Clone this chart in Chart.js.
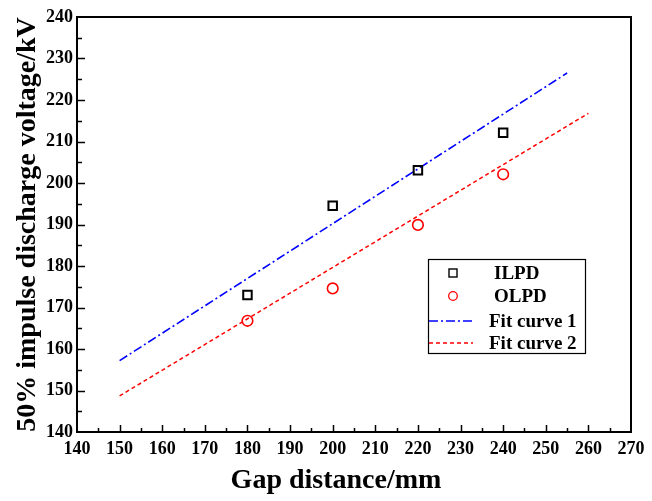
<!DOCTYPE html>
<html>
<head>
<meta charset="utf-8">
<script src="https://cdn.jsdelivr.net/npm/chart.js@4.4.1/dist/chart.umd.min.js"></script>
<style>
  html, body { margin: 0; padding: 0; background: #fff; }
  #wrap { width: 652px; height: 501px; }
</style>
</head>
<body>
<div id="wrap"><canvas id="gapChart" width="652" height="501"></canvas></div>
<script>
  // values
  const gapDistance = [180, 200, 220, 240];
  const ilpdVoltage = [173.0, 194.5, 203.1, 212.1];
  const olpdVoltage = [166.8, 174.6, 189.9, 202.1];

  // fit lines (end points)
  const fit1Gap = [150, 255];
  const fit1Voltage = [157.2, 226.5];
  const fit2Gap = [150, 260];
  const fit2Voltage = [148.7, 216.8];

  const xRange = [140, 270];
  const yRange = [140, 240];
  const legendLabels = ['ILPD', 'OLPD', 'Fit curve 1', 'Fit curve 2'];
  const xTitle = 'Gap distance/mm';
  const yTitle = '50% impulse discharge voltage/kV';

  const serif = '"Liberation Serif", "Times New Roman", serif';
  const toPoints = (xs, ys) => xs.map((x, i) => ({ x: x, y: ys[i] }));

  // frame + inward ticks, like the original plot
  const frameTicks = {
    id: 'frameTicks',
    afterDraw(chart) {
      const { ctx, chartArea: a, scales: { x, y } } = chart;
      ctx.save();
      ctx.strokeStyle = '#000';
      ctx.lineWidth = 2;
      ctx.strokeRect(a.left, a.top, a.right - a.left, a.bottom - a.top);

      ctx.lineWidth = 1.5;
      ctx.beginPath();
      for (let v = xRange[0] + 5; v < xRange[1]; v += 5) {
        const px = Math.round(x.getPixelForValue(v)) + 0.5;
        const len = v % 10 === 0 ? 7 : 4;
        ctx.moveTo(px, a.bottom);
        ctx.lineTo(px, a.bottom - len);
      }
      for (let v = yRange[0] + 5; v < yRange[1]; v += 5) {
        const py = Math.round(y.getPixelForValue(v)) + 0.5;
        const len = v % 10 === 0 ? 8 : 5;
        ctx.moveTo(a.left, py);
        ctx.lineTo(a.left + len, py);
      }
      ctx.stroke();

      // x title sits a bit left of centre in the original
      ctx.fillStyle = '#000';
      ctx.font = 'bold 28px ' + serif;
      ctx.textAlign = 'center';
      ctx.textBaseline = 'alphabetic';
      ctx.fillText(xTitle, 336, 488);
      ctx.restore();
    }
  };

  // boxed legend inside the plot
  const boxLegend = {
    id: 'boxLegend',
    afterDraw(chart) {
      const ctx = chart.ctx;
      const ds = chart.data.datasets;
      const box = { left: 428, top: 259, width: 157, height: 94 };
      const rows = [273, 296, 321, 343];
      const textX = [494, 494, 489, 489];
      ctx.save();
      ctx.strokeStyle = '#000';
      ctx.lineWidth = 1.2;
      ctx.strokeRect(box.left + 0.5, box.top + 0.5, box.width, box.height);

      ds.forEach((d, i) => {
        const cy = rows[i];
        ctx.strokeStyle = d.borderColor;
        if (d.showLine) {
          ctx.lineWidth = d.borderWidth;
          ctx.setLineDash(d.borderDash || []);
          ctx.beginPath();
          ctx.moveTo(429, cy);
          ctx.lineTo(473, cy);
          ctx.stroke();
          ctx.setLineDash([]);
        } else if (d.pointStyle === 'rect') {
          ctx.lineWidth = 1.4;
          ctx.strokeRect(449, cy - 4, 8, 8);
        } else {
          ctx.lineWidth = 1.3;
          ctx.beginPath();
          ctx.arc(453, cy, 4.3, 0, Math.PI * 2);
          ctx.stroke();
        }
        ctx.fillStyle = '#000';
        ctx.font = 'bold 19px ' + serif;
        ctx.textBaseline = 'middle';
        ctx.fillText(legendLabels[i], textX[i], cy + 1);
      });
      ctx.restore();
    }
  };

  const config = {
    type: 'scatter',
    data: {
      datasets: [
        {
          label: legendLabels[0],
          data: toPoints(gapDistance, ilpdVoltage),
          pointStyle: 'rect',
          pointRadius: 6,
          borderColor: '#000',
          backgroundColor: 'rgba(0,0,0,0)',
          borderWidth: 2
        },
        {
          label: legendLabels[1],
          data: toPoints(gapDistance, olpdVoltage),
          pointStyle: 'circle',
          pointRadius: 5.3,
          borderColor: '#ff0000',
          backgroundColor: 'rgba(0,0,0,0)',
          borderWidth: 1.6
        },
        {
          label: legendLabels[2],
          data: toPoints(fit1Gap, fit1Voltage),
          showLine: true,
          pointRadius: 0,
          borderColor: '#0000ff',
          borderWidth: 1.6,
          borderDash: [9, 3, 2, 3]
        },
        {
          label: legendLabels[3],
          data: toPoints(fit2Gap, fit2Voltage),
          showLine: true,
          pointRadius: 0,
          borderColor: '#ff0000',
          borderWidth: 1.5,
          borderDash: [4, 3]
        }
      ]
    },
    options: {
      responsive: false,
      animation: false,
      layout: { padding: { top: 17, right: 21, left: 0, bottom: 0 } },
      plugins: {
        legend: { display: false },
        tooltip: { enabled: false }
      },
      scales: {
        x: {
          type: 'linear',
          min: xRange[0],
          max: xRange[1],
          grid: { display: false, drawTicks: false },
          border: { display: false },
          ticks: {
            stepSize: 10,
            padding: 7,
            color: '#000',
            maxRotation: 0,
            font: { family: serif, size: 18, weight: 'bold' }
          },
          afterFit: (scale) => { scale.height = 69; }
        },
        y: {
          type: 'linear',
          min: yRange[0],
          max: yRange[1],
          grid: { display: false, drawTicks: false },
          border: { display: false },
          ticks: {
            stepSize: 10,
            padding: 4,
            color: '#000',
            font: { family: serif, size: 18, weight: 'bold' }
          },
          title: {
            display: true,
            text: yTitle,
            color: '#000',
            padding: { top: 11, bottom: 0 },
            font: { family: serif, size: 28, weight: 'bold' }
          },
          afterFit: (scale) => { scale.width = 77; }
        }
      }
    },
    plugins: [frameTicks, boxLegend]
  };

  window.addEventListener('DOMContentLoaded', function () {
    const ctx = document.getElementById('gapChart').getContext('2d');
    new Chart(ctx, config);
  });
</script>
</body>
</html>
